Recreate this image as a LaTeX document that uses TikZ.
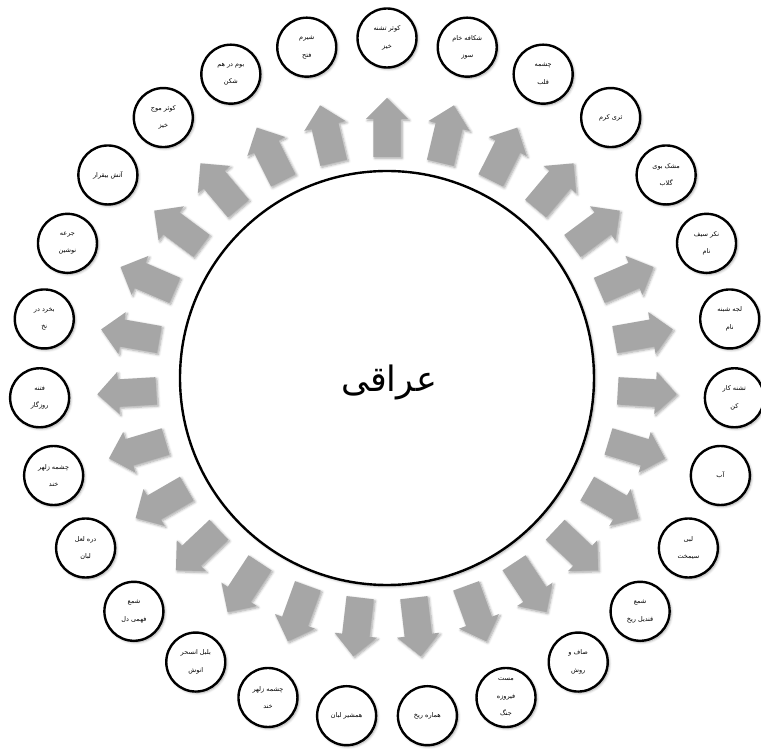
\documentclass[tikz,border=0pt]{standalone}
\usepackage{fontspec}
\usetikzlibrary{shapes.arrows,shadows.blur}
\newfontfamily\fa[Script=Arabic]{DejaVu Sans}
\TeXXeTstate=1
\newcommand{\rl}[1]{\beginR #1\endR}
\begin{document}
\begin{tikzpicture}[x=1pt,y=1pt,
  shd/.style={blur shadow={shadow xshift=1.5pt,shadow yshift=-1.5pt,shadow blur steps=6,shadow blur radius=2.5pt,shadow opacity=35}},
  sm/.style={circle,draw=black,line width=2.4pt,fill=white,minimum size=59pt,inner sep=0pt,
    font=\fa\fontsize{6.5}{17.5}\selectfont,align=center,shd},
  blk/.style={single arrow,fill=black!35,draw=none,inner xsep=0pt,inner ysep=13.5pt,
    single arrow head extend=7.5pt,minimum height=59pt,anchor=tail,shd},
  big/.style={circle,draw=black,line width=2.4pt,fill=white,minimum size=414pt,inner sep=0pt,shd}]
\useasboundingbox (-387,-371) rectangle (374,378);
\node[big] (c) at (0,0) {};
\node[font=\fa\fontsize{35}{40}\selectfont] (t) at (2,-4) {\rl{عراقی}};
\foreach \txt [count=\i from 0] in {
  {\rl{کوثر تشنه}\\\rl{خیز}},
  {\rl{شکافه خام}\\\rl{سوز}},
  {\rl{چشمه}\\\rl{قلب}},
  {\rl{ثری کرم}},
  {\rl{مشک بوی}\\\rl{گلاب}},
  {\rl{نکر سیف}\\\rl{نام}},
  {\rl{لجه شبنه}\\\rl{نام}},
  {\rl{تشنه کار}\\\rl{کن}},
  {\rl{آب}},
  {\rl{لبی}\\\rl{سیمخت}},
  {\rl{شمع}\\\rl{قندیل ریخ}},
  {\rl{صاف و}\\\rl{روش}},
  {\rl{مست}\\\rl{فیروزه}\\\rl{جنگ}},
  {\rl{هماره ریخ}},
  {\rl{همشیر لبان}},
  {\rl{چشمه زلهر}\\\rl{خند}},
  {\rl{بلبل انسحر}\\\rl{انوش}},
  {\rl{شمع}\\\rl{فهمی دل}},
  {\rl{دره لعل}\\\rl{لبان}},
  {\rl{چشمه زلهر}\\\rl{خند}},
  {\rl{فتنه}\\\rl{روزگار}},
  {\rl{بخرد در}\\\rl{نخ}},
  {\rl{جرعه}\\\rl{نوشین}},
  {\rl{آتش بیقرار}},
  {\rl{کوثر موج}\\\rl{خیز}},
  {\rl{بوم در هم}\\\rl{شکن}},
  {\rl{شیرم}\\\rl{فتح}}}
{
  \pgfmathsetmacro{\a}{90-\i*360/27}
  \node[blk,rotate=\a] (ar\i) at ({231*cos(\a)},{221*sin(\a)}) {};
  \node[sm] (s\i) at ({348*cos(\a)},{340*sin(\a)}) {\txt};
}
\end{tikzpicture}
\end{document}
